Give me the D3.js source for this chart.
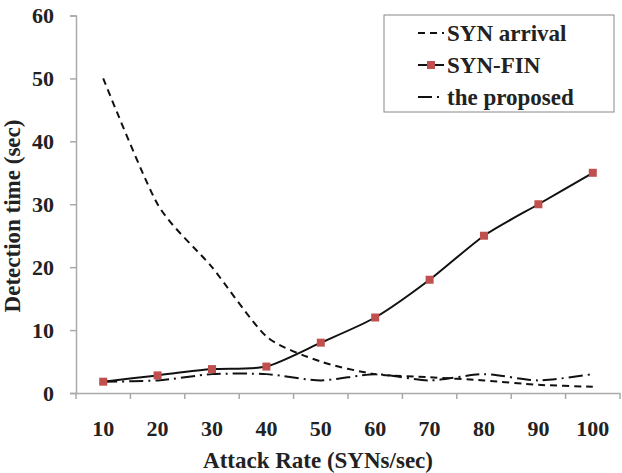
<!DOCTYPE html>
<html>
<head>
<meta charset="utf-8">
<title>Detection time</title>
<script src="https://cdn.jsdelivr.net/npm/d3@7/dist/d3.min.js"></script>
<style>
  body { margin: 0; background: #fff; }
  svg text { font-family: "Liberation Serif", "Times New Roman", "DejaVu Serif", serif; font-weight: bold; fill: #222; }
</style>
</head>
<body>
<script>
var rates = [10, 20, 30, 40, 50, 60, 70, 80, 90, 100];
var synArrival = [50, 30, 20, 9, 5, 3, 2.5, 2, 1.3, 1];
var synFin = [1.8, 2.8, 3.8, 4.2, 8, 12, 18, 25, 30, 35];
var proposed = [1.8, 2, 3, 3, 2, 3, 2, 3, 2, 3];
var yTicks = [0, 10, 20, 30, 40, 50, 60];

var width = 622, height = 473,
    mLeft = 76, mRight = 620, mTop = 15.5, mBottom = 393;

var svg = d3.select("body").append("svg")
  .attr("width", width).attr("height", height);

var x = d3.scaleBand().domain(rates).range([mLeft, mRight]);
var y = d3.scaleLinear().domain([0, 60]).range([mBottom, mTop]);
var cx = function(d) { return x(d) + x.bandwidth() / 2; };

function styleTicks(g) {
  g.selectAll(".tick text")
    .attr("font-family", null).attr("font-size", null)
    .style("font-size", "22px").style("fill", "#222");
}

// y axis
var yAxis = svg.append("g").attr("transform", "translate(" + mLeft + ",0)")
  .call(d3.axisLeft(y).tickValues(yTicks).tickSize(6).tickPadding(16));
yAxis.attr("font-family", null);
yAxis.select(".domain").attr("stroke", "#aaa").attr("stroke-width", 1.5);
yAxis.selectAll(".tick line").attr("stroke", "#aaa").attr("stroke-width", 1.5);
styleTicks(yAxis);

// x axis: ticks sit between the categories
var xAxis = svg.append("g").attr("transform", "translate(0," + mBottom + ")")
  .call(d3.axisBottom(x).tickSize(0).tickPadding(27));
xAxis.attr("font-family", null);
xAxis.select(".domain").attr("stroke", "#aaa").attr("stroke-width", 1.5);
styleTicks(xAxis);
svg.append("g").selectAll("line")
  .data(rates.concat(["end"]))
  .join("line")
  .attr("x1", function(d, i) { return mLeft + i * x.step(); })
  .attr("x2", function(d, i) { return mLeft + i * x.step(); })
  .attr("y1", mBottom).attr("y2", mBottom + 6)
  .attr("stroke", "#aaa").attr("stroke-width", 1.5);

// axis titles
svg.append("text").attr("x", 318).attr("y", 468)
  .attr("text-anchor", "middle").style("font-size", "23px")
  .text("Attack Rate (SYNs/sec)");
svg.append("text")
  .attr("transform", "translate(20,216) rotate(-90)")
  .attr("text-anchor", "middle").style("font-size", "23px")
  .text("Detection time (sec)");

var line = d3.line()
  .x(function(d, i) { return cx(rates[i]); })
  .y(function(d) { return y(d); })
  .curve(d3.curveCardinal.tension(0.3));

svg.append("path").datum(synArrival).attr("d", line)
  .attr("fill", "none").attr("stroke", "#111").attr("stroke-width", 2)
  .attr("stroke-dasharray", "7,5");
svg.append("path").datum(proposed).attr("d", line)
  .attr("fill", "none").attr("stroke", "#111").attr("stroke-width", 2)
  .attr("stroke-dasharray", "14,5,2,5");
svg.append("path").datum(synFin).attr("d", line)
  .attr("fill", "none").attr("stroke", "#111").attr("stroke-width", 2);
svg.append("g").selectAll("rect").data(synFin).join("rect")
  .attr("x", function(d, i) { return cx(rates[i]) - 4; })
  .attr("y", function(d) { return y(d) - 4; })
  .attr("width", 8).attr("height", 8)
  .attr("fill", "#c0504d");

// legend
var lg = svg.append("g");
lg.append("rect").attr("x", 384).attr("y", 15).attr("width", 230).attr("height", 97)
  .attr("fill", "#fff").attr("stroke", "#888").attr("stroke-width", 1);
var items = [
  { name: "SYN arrival", dash: "7,5", marker: false },
  { name: "SYN-FIN", dash: null, marker: true },
  { name: "the proposed", dash: "14,5,2,5", marker: false }
];
items.forEach(function(it, i) {
  var ly = 33 + i * 32;
  lg.append("line").attr("x1", 418).attr("x2", 444).attr("y1", ly).attr("y2", ly)
    .attr("stroke", "#111").attr("stroke-width", 2)
    .attr("stroke-dasharray", it.dash);
  if (it.marker) {
    lg.append("rect").attr("x", 427).attr("y", ly - 4).attr("width", 8).attr("height", 8)
      .attr("fill", "#c0504d");
  }
  lg.append("text").attr("x", 447).attr("y", ly + 8).style("font-size", "23px").text(it.name);
});
</script>
</body>
</html>
